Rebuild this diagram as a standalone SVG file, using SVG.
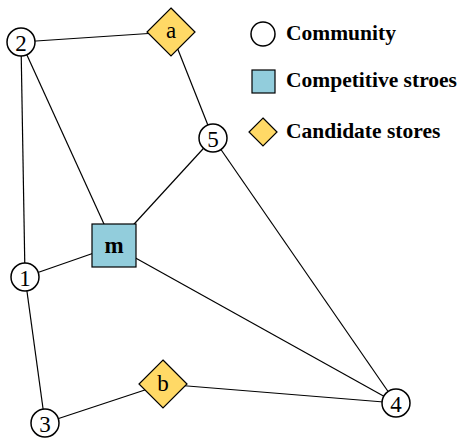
<svg xmlns="http://www.w3.org/2000/svg" width="468" height="440" viewBox="0 0 468 440">
<style>
.e{stroke:#000;stroke-width:1.2;fill:none}
.c{fill:#fff;stroke:#000;stroke-width:1.5}
.d{fill:#FFD966;stroke:#000;stroke-width:1.2}
.s{fill:#92CDDC;stroke:#000;stroke-width:1.2}
.t{font-family:"Liberation Serif",serif;font-size:23px;text-anchor:middle;dominant-baseline:central}
.l{font-family:"Liberation Serif",serif;font-size:21.5px;font-weight:bold}
</style>
<rect width="468" height="440" fill="#fff"/>
<g id="edges">
<line class="e" x1="21" y1="42" x2="171" y2="32"/>
<line class="e" x1="171" y1="32" x2="213" y2="138"/>
<line class="e" x1="21" y1="42" x2="25" y2="277"/>
<line class="e" x1="21" y1="42" x2="114" y2="246"/>
<line class="e" x1="213" y1="138" x2="114" y2="246"/>
<line class="e" x1="213" y1="138" x2="396" y2="403"/>
<line class="e" x1="114" y1="246" x2="25" y2="277"/>
<line class="e" x1="114" y1="246" x2="396" y2="403"/>
<line class="e" x1="25" y1="277" x2="45" y2="423"/>
<line class="e" x1="45" y1="423" x2="163" y2="384"/>
<line class="e" x1="163" y1="384" x2="396" y2="403"/>
</g>
<g id="n2"><circle class="c" cx="21" cy="42" r="14"/><text class="t" x="21" y="43">2</text></g>
<g id="na"><polygon class="d" points="171,8 195,32 171,56 147,32"/><text class="t" x="171" y="30" font-size="30">a</text></g>
<g id="n5"><circle class="c" cx="213" cy="138" r="14"/><text class="t" x="213" y="139">5</text></g>
<g id="nm"><rect class="s" x="92" y="224" width="44" height="43"/><text class="t" x="114" y="245" font-weight="bold" font-size="22">m</text></g>
<g id="n1"><circle class="c" cx="25" cy="277" r="14"/><text class="t" x="25" y="278">1</text></g>
<g id="nb"><polygon class="d" points="163,360 187,384 163,408 139,384"/><text class="t" x="163" y="383" font-size="30">b</text></g>
<g id="n3"><circle class="c" cx="45" cy="423" r="14"/><text class="t" x="45" y="424">3</text></g>
<g id="n4"><circle class="c" cx="396" cy="403" r="14"/><text class="t" x="396" y="404">4</text></g>
<g id="legend">
<circle class="c" cx="263" cy="34" r="12"/>
<text class="l" x="286" y="40">Community</text>
<rect class="s" x="252" y="70" width="23" height="23"/>
<text class="l" x="286" y="87">Competitive stroes</text>
<polygon class="d" points="263,118 277,132 263,146 249,132"/>
<text class="l" x="286" y="138">Candidate stores</text>
</g>
</svg>
